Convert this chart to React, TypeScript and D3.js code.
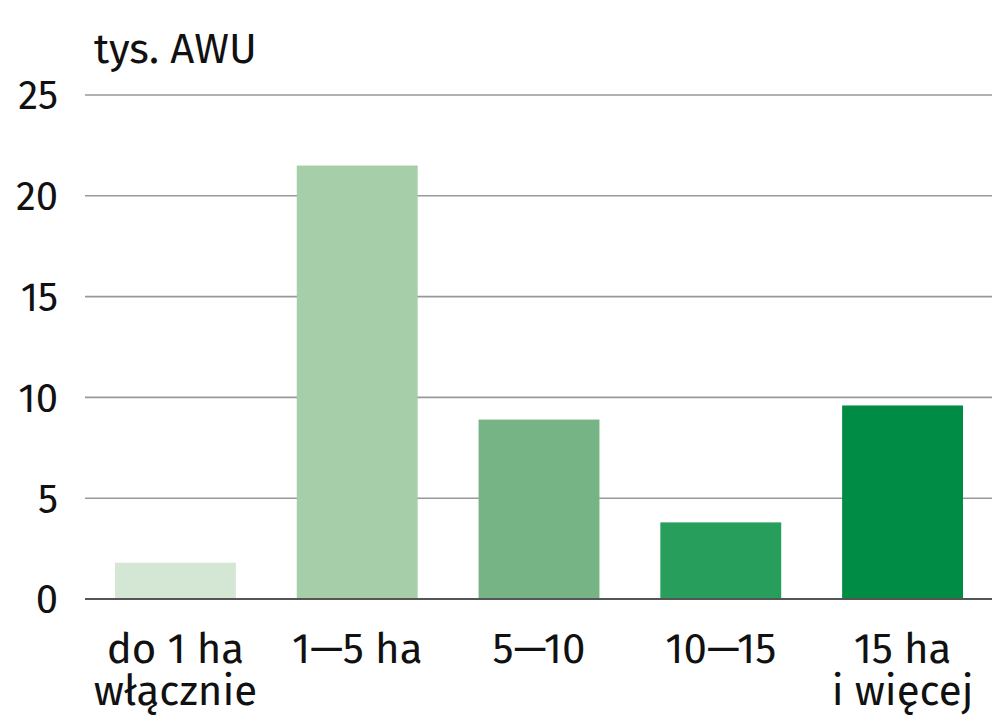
import React from "react";
import * as d3 from "d3";

const categories: string[][] = [
  ["do 1 ha", "włącznie"],
  ["1—5 ha"],
  ["5—10"],
  ["10—15"],
  ["15 ha", "i więcej"],
];
const values = [1.8, 21.5, 8.9, 3.8, 9.6];
const colors = ["#d4e7d4", "#a6cea9", "#76b486", "#289e5d", "#008c45"];
const yTicks = [0, 5, 10, 15, 20, 25];
const unitLabel = "tys. AWU";

const W = 992;
const H = 721;
const FONT = "'Fira Sans', 'Noto Sans', 'Open Sans', sans-serif";

export default function App() {
  const y = d3.scaleLinear().domain([0, 25]).range([599, 95]);
  const x = d3
    .scaleBand<number>()
    .domain(d3.range(values.length))
    .range([85, 993])
    .paddingInner(0.335)
    .paddingOuter(0.165);

  return (
    <svg
      width={W}
      height={H}
      style={{ position: "absolute", left: 0, top: 0, background: "#fff" }}
      fontFamily={FONT}
    >
      <text x={94} y={63} fontSize={42} fill="#111">
        {unitLabel}
      </text>
      {yTicks.map((t) => (
        <g key={t}>
          <line
            x1={85}
            x2={W}
            y1={y(t)}
            y2={y(t)}
            stroke={t === 0 ? "#555" : "#999"}
            strokeWidth={t === 0 ? 2 : 1.6}
          />
          <text
            x={58}
            y={y(t)}
            dy="0.36em"
            textAnchor="end"
            fontSize={40}
            fill="#111"
          >
            {t}
          </text>
        </g>
      ))}
      {values.map((v, i) => (
        <rect
          key={i}
          x={x(i)}
          y={y(v)}
          width={x.bandwidth()}
          height={y(0) - y(v)}
          fill={colors[i]}
        />
      ))}
      <line x1={85} x2={W} y1={y(0)} y2={y(0)} stroke="#555" strokeWidth={2} />
      {categories.map((lines, i) => (
        <text
          key={i}
          x={(x(i) as number) + x.bandwidth() / 2}
          y={663}
          textAnchor="middle"
          fontSize={42}
          fill="#111"
        >
          {lines.map((l, j) => (
            <tspan key={j} x={(x(i) as number) + x.bandwidth() / 2} dy={j === 0 ? 0 : 42}>
              {l}
            </tspan>
          ))}
        </text>
      ))}
    </svg>
  );
}
